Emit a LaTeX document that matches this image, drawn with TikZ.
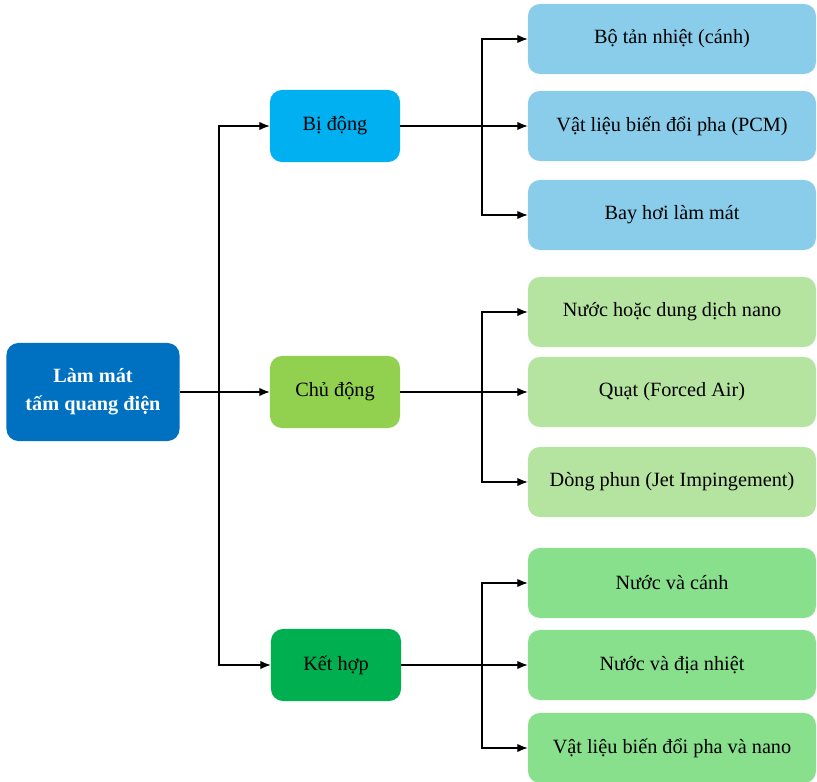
\documentclass[tikz,border=0pt]{standalone}
\usepackage{fontspec}
\setmainfont{Liberation Serif}
\usetikzlibrary{arrows.meta}
\definecolor{rootblue}{HTML}{0070C0}
\definecolor{passblue}{HTML}{00B0F0}
\definecolor{actgreen}{HTML}{92D050}
\definecolor{combgreen}{HTML}{00B050}
\definecolor{passleaf}{HTML}{8ACDEA}
\definecolor{actleaf}{HTML}{B5E3A0}
\definecolor{combleaf}{HTML}{88E08D}
\tikzset{
  box/.style={rounded corners=0.3cm,align=center,font=\fontsize{14.4}{18}\selectfont},
  mid/.style={box,minimum width=3.25cm,minimum height=1.8cm},
  leaf/.style={box,minimum width=7.2cm,minimum height=1.75cm},
  arr/.style={-{Latex[length=2.6mm,width=2.1mm]},line width=0.8pt}
}

\begin{document}
\begin{tikzpicture}[x=0.025cm,y=-0.025cm]
    \useasboundingbox (0,0) rectangle (817,782);
    \node[box,fill=rootblue,text=white,font=\fontsize{14.4}{20}\selectfont\bfseries,minimum width=4.325cm,minimum height=2.45cm] (root) at (93,392) {Làm mát\\tấm quang điện};
    \node[mid,fill=passblue] (bi) at (335,126) {Bị động};
    \node[mid,fill=actgreen] (chu) at (335,392) {Chủ động};
    \node[mid,fill=combgreen] (ket) at (336,665) {Kết hợp};
    \node[leaf,fill=passleaf] (p1) at (672,39) {Bộ tản nhiệt (cánh)};
    \node[leaf,fill=passleaf] (p2) at (672,126) {Vật liệu biến đổi pha (PCM)};
    \node[leaf,fill=passleaf] (p3) at (672,215) {Bay hơi làm mát};
    \node[leaf,fill=actleaf] (a1) at (672,312) {Nước hoặc dung dịch nano};
    \node[leaf,fill=actleaf] (a2) at (672,392) {Quạt (Forced Air)};
    \node[leaf,fill=actleaf] (a3) at (672,482) {Dòng phun (Jet Impingement)};
    \node[leaf,fill=combleaf] (c1) at (672,583) {Nước và cánh};
    \node[leaf,fill=combleaf] (c2) at (672,665) {Nước và địa nhiệt};
    \node[leaf,fill=combleaf] (c3) at (672,748) {Vật liệu biến đổi pha và nano};
    % trunk
    \coordinate (t) at (219,392);
    \draw[arr] (root) -- (chu);
    \draw[arr] (t) |- (bi);
    \draw[arr] (t) |- (ket);
    % branches
    \coordinate (bp) at (482,126);
    \coordinate (ap) at (482,392);
    \coordinate (cp) at (482,665);
    \draw[arr] (bi) -- (p2);
    \draw[arr] (bp) |- (p1);
    \draw[arr] (bp) |- (p3);
    \draw[arr] (chu) -- (a2);
    \draw[arr] (ap) |- (a1);
    \draw[arr] (ap) |- (a3);
    \draw[arr] (ket) -- (c2);
    \draw[arr] (cp) |- (c1);
    \draw[arr] (cp) |- (c3);
\end{tikzpicture}
\end{document}
